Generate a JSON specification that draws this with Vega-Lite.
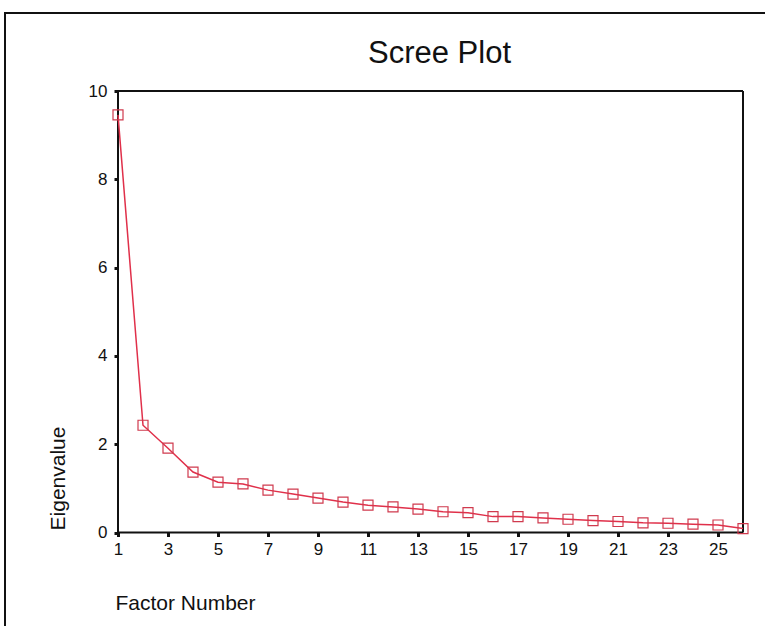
{
  "$schema": "https://vega.github.io/schema/vega-lite/v6.json",
  "autosize": "none",
  "padding": {"left": 5, "top": 13, "right": 0, "bottom": 0},
  "width": 785,
  "height": 637,
  "background": "white",
  "title": {
    "text": "Scree Plot",
    "orient": "top",
    "anchor": "middle",
    "frame": "group",
    "offset": -57,
    "dx": 42,
    "font": "Liberation Sans",
    "fontSize": 31,
    "fontWeight": "normal",
    "color": "#111111"
  },
  "config": {
    "view": {"stroke": "#111111", "strokeWidth": 2},
    "font": "Liberation Sans"
  },
  "datasets": {
    "eigen": [
      {"factor": 1, "eigenvalue": 9.46},
      {"factor": 2, "eigenvalue": 2.43},
      {"factor": 3, "eigenvalue": 1.91},
      {"factor": 4, "eigenvalue": 1.37},
      {"factor": 5, "eigenvalue": 1.14},
      {"factor": 6, "eigenvalue": 1.10},
      {"factor": 7, "eigenvalue": 0.96},
      {"factor": 8, "eigenvalue": 0.87},
      {"factor": 9, "eigenvalue": 0.78},
      {"factor": 10, "eigenvalue": 0.69},
      {"factor": 11, "eigenvalue": 0.62},
      {"factor": 12, "eigenvalue": 0.58},
      {"factor": 13, "eigenvalue": 0.53},
      {"factor": 14, "eigenvalue": 0.47},
      {"factor": 15, "eigenvalue": 0.45},
      {"factor": 16, "eigenvalue": 0.36},
      {"factor": 17, "eigenvalue": 0.36},
      {"factor": 18, "eigenvalue": 0.33},
      {"factor": 19, "eigenvalue": 0.30},
      {"factor": 20, "eigenvalue": 0.27},
      {"factor": 21, "eigenvalue": 0.25},
      {"factor": 22, "eigenvalue": 0.22},
      {"factor": 23, "eigenvalue": 0.21},
      {"factor": 24, "eigenvalue": 0.19},
      {"factor": 25, "eigenvalue": 0.17},
      {"factor": 26, "eigenvalue": 0.09}
    ],
    "box": [
      {"factor": 1, "eigenvalue": 0, "factor2": 26, "eigenvalue2": 0},
      {"factor": 1, "eigenvalue": 10, "factor2": 26, "eigenvalue2": 10},
      {"factor": 1, "eigenvalue": 0, "factor2": 1, "eigenvalue2": 10},
      {"factor": 26, "eigenvalue": 0, "factor2": 26, "eigenvalue2": 10}
    ]
  },
  "layer": [
    {
      "data": {"name": "box"},
      "mark": {"type": "rule", "color": "#111111", "strokeWidth": 2},
      "encoding": {
        "x": {
          "field": "factor",
          "type": "quantitative",
          "scale": {"domain": [-3.52, 27.88], "nice": false, "zero": false},
          "axis": {
            "title": "Factor Number",
            "values": [1, 3, 5, 7, 9, 11, 13, 15, 17, 19, 21, 23, 25],
            "offset": -117.5,
            "domain": false,
            "grid": false,
            "ticks": true,
            "tickSize": 4,
            "tickWidth": 3,
            "tickColor": "#111111",
            "labelFont": "Liberation Sans",
            "labelFontSize": 17,
            "labelColor": "#111111",
            "labelPadding": 5,
            "titleFont": "Liberation Sans",
            "titleFontSize": 21,
            "titleFontWeight": "normal",
            "titleColor": "#111111",
            "titleX": 110,
            "titleY": 71,
            "titleAlign": "left",
            "titleBaseline": "middle"
          }
        },
        "y": {
          "field": "eigenvalue",
          "type": "quantitative",
          "scale": {"domain": [-2.661, 11.767], "nice": false, "zero": false},
          "axis": {
            "title": "Eigenvalue",
            "values": [0, 2, 4, 6, 8, 10],
            "offset": -113,
            "domain": false,
            "grid": false,
            "ticks": true,
            "tickSize": 4,
            "tickWidth": 3,
            "tickColor": "#111111",
            "labelFont": "Liberation Sans",
            "labelFontSize": 17,
            "labelColor": "#111111",
            "labelPadding": 7,
            "titleFont": "Liberation Sans",
            "titleFontSize": 21,
            "titleFontWeight": "normal",
            "titleColor": "#111111",
            "titleX": -60,
            "titleY": 465,
            "titleAngle": -90,
            "titleAlign": "center",
            "titleBaseline": "middle"
          }
        },
        "x2": {"field": "factor2"},
        "y2": {"field": "eigenvalue2"}
      }
    },
    {
      "data": {"name": "eigen"},
      "mark": {
        "type": "line",
        "color": "#e0304a",
        "strokeWidth": 1.5,
        "point": {"shape": "square", "size": 100, "filled": false, "stroke": "#d03a4e", "strokeWidth": 1.2, "fill": "transparent"}
      },
      "encoding": {
        "x": {"field": "factor", "type": "quantitative"},
        "y": {"field": "eigenvalue", "type": "quantitative"}
      }
    }
  ]
}
